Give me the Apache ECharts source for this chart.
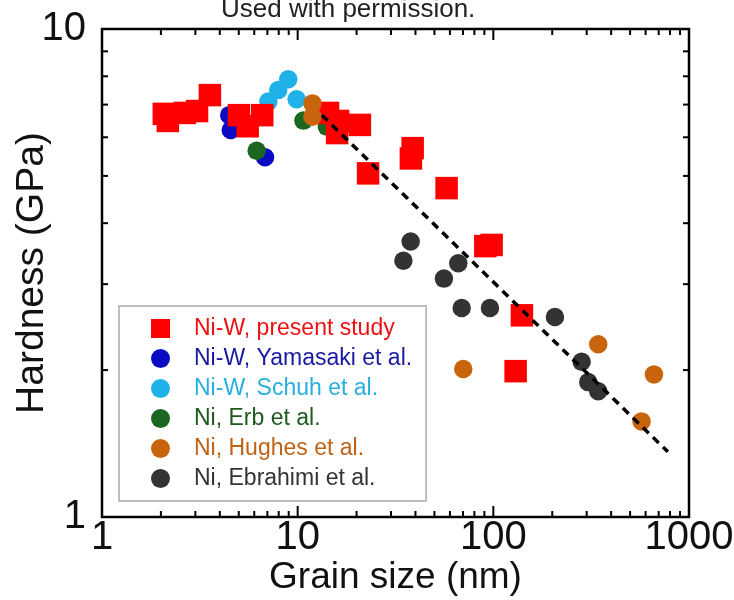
<!DOCTYPE html>
<html>
<head>
<meta charset="utf-8">
<script src="https://cdn.jsdelivr.net/npm/echarts@6/dist/echarts.min.js"></script>
<style>
  html, body { margin: 0; padding: 0; background: #fff; }
  #chart { width: 734px; height: 600px; }
</style>
</head>
<body>
<div id="chart"></div>
<script>
// grain size (nm) / hardness (GPa) per data set
const presentX = [2.07, 2.17, 2.65, 3.06, 3.56, 5.01, 5.55, 6.59, 14.3, 16.1, 20.8, 15.9, 22.9, 38.7, 37.9, 57.7, 91, 98, 140, 130];
const presentY = [6.70, 6.48, 6.73, 6.79, 7.32, 6.66, 6.32, 6.66, 6.73, 6.48, 6.36, 6.12, 5.06, 5.70, 5.43, 4.72, 3.59, 3.61, 2.59, 1.99];
const yamasakiX = [4.47, 4.55, 6.81];
const yamasakiY = [6.66, 6.21, 5.46];
const schuhX = [7.08, 7.96, 8.95, 9.88];
const schuhY = [7.10, 7.50, 7.89, 7.18];
const erbX = [6.17, 10.7, 14.1];
const erbY = [5.63, 6.49, 6.31];
const hughesX = [11.9, 11.9, 70.2, 343.6, 662, 572];
const hughesY = [7.04, 6.61, 2.01, 2.26, 1.96, 1.57];
const ebrahimiX = [34.7, 37.8, 55.9, 66.2, 68.9, 96.1, 206.5, 282.6, 305.5, 343.6];
const ebrahimiY = [3.35, 3.67, 3.08, 3.31, 2.68, 2.68, 2.57, 2.08, 1.89, 1.81];
const fitX = [13.3, 780];
const fitY = [6.66, 1.36];

const xMinorTicks = [2, 3, 4, 5, 6, 7, 8, 9, 20, 30, 40, 50, 60, 70, 80, 90, 200, 300, 400, 500, 600, 700, 800, 900];
const xMajorTicks = [10, 100];
const yMinorTicks = [2, 3, 4, 5, 6, 7, 8, 9];

const FONT = '"Liberation Sans", Arial, sans-serif';

function zip(xs, ys) {
    return xs.map(function (x, i) { return [x, ys[i]]; });
}

function tickLine(x1, y1, x2, y2) {
    return {
        type: 'line',
        shape: { x1: x1, y1: y1, x2: x2, y2: y2 },
        style: { stroke: '#000', lineWidth: 2 }
    };
}

function renderXTick(params, api) {
    const v = api.value(0);
    const len = xMajorTicks.indexOf(v) >= 0 ? 11 : 6;
    const b = api.coord([v, 1]);
    const t = api.coord([v, 10]);
    return {
        type: 'group',
        children: [tickLine(b[0], b[1], b[0], b[1] - len), tickLine(t[0], t[1], t[0], t[1] + len)]
    };
}

function renderYTick(params, api) {
    const v = api.value(1);
    const l = api.coord([1, v]);
    const r = api.coord([1000, v]);
    return {
        type: 'group',
        children: [tickLine(l[0], l[1], l[0] + 6, l[1]), tickLine(r[0], r[1], r[0] - 6, r[1])]
    };
}

function scatter(name, xs, ys, color, symbol, size) {
    return {
        name: name,
        type: 'scatter',
        symbol: symbol,
        symbolSize: size,
        itemStyle: { color: color, opacity: 1 },
        data: zip(xs, ys)
    };
}

const names = ['Ni-W, present study', 'Ni-W, Yamasaki et al.', 'Ni-W, Schuh et al.', 'Ni, Erb et al.', 'Ni, Hughes et al.', 'Ni, Ebrahimi et al.'];
const colors = ['#ff0000', '#0b0bc4', '#1eb2e8', '#1b6620', '#c8650c', '#333333'];
const textColors = ['#ee1111', '#1a1aa0', '#2aaee0', '#1d5a1d', '#c06214', '#333333'];

const chart = echarts.init(document.getElementById('chart'));

chart.setOption({
    animation: false,
    title: {
        text: 'Used with permission.',
        left: 216,
        top: -8,
        textStyle: { fontFamily: FONT, fontSize: 26, fontWeight: 'normal', color: '#222' }
    },
    grid: {
        left: 102,
        right: 45,
        top: 29,
        bottom: 83,
        outerBoundsMode: 'none',
        containLabel: false,
        show: true,
        borderColor: '#000',
        borderWidth: 2.5
    },
    legend: {
        orient: 'vertical',
        left: 119,
        top: 306,
        padding: [11, 14, 11, 32],
        itemWidth: 19,
        itemHeight: 19,
        itemGap: 7,
        borderColor: '#aaaaaa',
        borderWidth: 1.5,
        textStyle: { fontFamily: FONT, fontSize: 23, lineHeight: 22, padding: [0, 0, 0, 19] },
        data: names.map(function (n, i) {
            return { name: n, icon: i === 0 ? 'rect' : 'circle', textStyle: { color: textColors[i] } };
        })
    },
    xAxis: {
        type: 'log',
        logBase: 10,
        min: 1,
        max: 1000,
        name: 'Grain size (nm)',
        nameLocation: 'middle',
        nameGap: 42,
        nameMoveOverlap: false,
        nameTextStyle: { fontFamily: FONT, fontSize: 37, color: '#111' },
        axisLine: { show: false },
        axisTick: { show: false },
        splitLine: { show: false },
        axisLabel: {
            fontFamily: FONT, fontSize: 40, color: '#111', margin: 1,
            formatter: function (v) { return String(Math.round(v)); }
        }
    },
    yAxis: {
        type: 'log',
        logBase: 10,
        min: 1,
        max: 10,
        name: 'Hardness (GPa)',
        nameLocation: 'middle',
        nameGap: 50,
        nameMoveOverlap: false,
        nameTextStyle: { fontFamily: FONT, fontSize: 39, color: '#111' },
        axisLine: { show: false },
        axisTick: { show: false },
        splitLine: { show: false },
        axisLabel: {
            fontFamily: FONT, fontSize: 40, color: '#111', margin: 16, padding: [12, 0, 0, 0],
            formatter: function (v) { return String(Math.round(v)); }
        }
    },
    series: [
        scatter(names[1], yamasakiX, yamasakiY, colors[1], 'circle', 18.5),
        scatter(names[2], schuhX, schuhY, colors[2], 'circle', 18.5),
        scatter(names[3], erbX, erbY, colors[3], 'circle', 18.5),
        scatter(names[0], presentX, presentY, colors[0], 'rect', 22.5),
        scatter(names[4], hughesX, hughesY, colors[4], 'circle', 18.5),
        scatter(names[5], ebrahimiX, ebrahimiY, colors[5], 'circle', 18.5),
        {
            name: 'fit',
            type: 'line',
            symbol: 'none',
            data: zip(fitX, fitY),
            lineStyle: { color: '#000', width: 3.5, type: [8, 6] },
            z: 5
        },
        {
            type: 'custom',
            renderItem: renderXTick,
            data: xMinorTicks.concat(xMajorTicks).map(function (v) { return [v, 1]; }),
            z: 6
        },
        {
            type: 'custom',
            renderItem: renderYTick,
            data: yMinorTicks.map(function (v) { return [1, v]; }),
            z: 6
        }
    ]
});
</script>
</body>
</html>
